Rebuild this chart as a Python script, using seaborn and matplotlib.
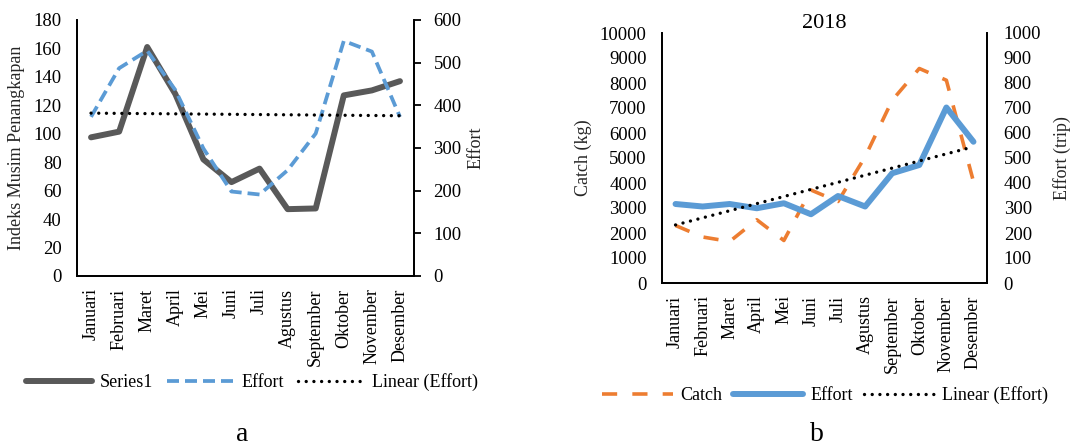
"""Seasonal fishing index vs effort (a) and 2018 catch vs effort (b)."""

import matplotlib

matplotlib.use("Agg")
import matplotlib.pyplot as plt
import numpy as np
import pandas as pd
import seaborn as sns

MONTHS = [
    "Januari", "Februari", "Maret", "April", "Mei", "Juni",
    "Juli", "Agustus", "September", "Oktober", "November", "Desember",
]

# panel a
SERIES1 = [97.5, 101.5, 161, 128, 82, 66, 75.5, 47, 47.5, 127, 130.5, 137]
EFFORT_A = [373, 487, 528, 436, 299, 198, 191, 248, 334, 551, 526, 373]

# panel b (2018)
CATCH_B = [2300, 1840, 1660, 2530, 1700, 3720, 3260, 5050, 7310, 8580, 8110, 4060]
EFFORT_B = [316, 306, 316, 299, 319, 275, 348, 306, 439, 472, 702, 565]

W, H = 1072, 445
SERIF = ["Liberation Serif", "DejaVu Serif"]
GREY = "#595959"
BLUE = "#5B9BD5"
ORANGE = "#ED7D31"


def _px_axes(fig, left, top, right, bottom):
    return fig.add_axes([left / W, 1 - bottom / H, (right - left) / W, (bottom - top) / H])


def _style_pair(ax, ax2):
    for a in (ax, ax2):
        a.spines["top"].set_visible(False)
        for side in ("left", "right", "bottom"):
            a.spines[side].set_color("black")
            a.spines[side].set_linewidth(1.3)
    ax.set_xlim(-0.5, 11.5)
    ax.set_xticks(range(12))
    ax.set_xticklabels(MONTHS, rotation=90, fontsize=13)
    ax.tick_params(axis="x", length=0, pad=9)
    ax.tick_params(axis="y", length=0, pad=11, labelsize=13.5)
    ax2.tick_params(axis="y", labelsize=13.5)


def _trend(ax2, values):
    frame = pd.DataFrame({"x": np.arange(12), "y": values})
    sns.regplot(
        data=frame, x="x", y="y", ax=ax2, scatter=False, ci=None, truncate=True,
        line_kws={"color": "black", "linewidth": 2.4,
                  "linestyle": (0, (0.01, 2.3)), "dash_capstyle": "round"},
    )


def main():
    sns.set_theme(style="white")
    plt.rcParams["font.family"] = SERIF
    plt.rcParams["text.color"] = "black"
    plt.rcParams["xtick.color"] = "black"
    plt.rcParams["ytick.color"] = "black"

    fig = plt.figure(figsize=(W / 100, H / 100), dpi=100)
    fig.patch.set_facecolor("white")

    # ---- panel a ----
    ax = _px_axes(fig, 77, 20, 414, 276)
    ax2 = ax.twinx()
    x = np.arange(12)
    sns.lineplot(x=x, y=SERIES1, ax=ax, color=GREY, linewidth=4.3)
    sns.lineplot(x=x, y=EFFORT_A, ax=ax2, color=BLUE, linewidth=2.7)
    ax2.lines[0].set_dashes((3.2, 1.6))
    _trend(ax2, EFFORT_A)
    ax.set_ylim(0, 180)
    ax.set_yticks(range(0, 181, 20))
    ax2.set_ylim(0, 600)
    ax2.set_yticks(range(0, 601, 100))
    _style_pair(ax, ax2)
    ax2.tick_params(axis="y", length=5, width=1.3, pad=9)
    ax.set_ylabel("Indeks Musim Penangkapan", fontsize=13)
    ax.yaxis.set_label_coords(-0.154, 0.5)
    ax2.set_ylabel("Effort", fontsize=13)
    ax2.yaxis.set_label_coords(1.16, 0.5)
    ax.set_xlabel("")
    handles = [ax.lines[0], ax2.lines[0], ax2.lines[1]]
    fig.legend(
        handles, ["Series1", "Effort", "Linear (Effort)"],
        loc="center", bbox_to_anchor=(252 / W, 1 - 382 / H), ncol=3,
        frameon=False, fontsize=13, handlelength=3.7, handletextpad=0.4,
        columnspacing=0.8,
    )
    fig.text(242 / W, 1 - 441 / H, "a", ha="center", va="baseline", fontsize=20)

    # ---- panel b ----
    bx = _px_axes(fig, 662, 33, 987, 283)
    bx2 = bx.twinx()
    sns.lineplot(x=x, y=CATCH_B, ax=bx, color=ORANGE, linewidth=2.6)
    bx.lines[0].set_dashes((4.2, 4.2))
    sns.lineplot(x=x, y=EFFORT_B, ax=bx2, color=BLUE, linewidth=4.3)
    _trend(bx2, EFFORT_B)
    bx.set_ylim(0, 10000)
    bx.set_yticks(range(0, 10001, 1000))
    bx2.set_ylim(0, 1000)
    bx2.set_yticks(range(0, 1001, 100))
    _style_pair(bx, bx2)
    bx2.tick_params(axis="y", length=0, pad=12)
    bx.set_ylabel("Catch (kg)", fontsize=13)
    bx.yaxis.set_label_coords(-0.215, 0.5)
    bx2.set_ylabel("Effort (trip)", fontsize=13)
    bx2.yaxis.set_label_coords(1.203, 0.5)
    bx.set_xlabel("")
    bx.set_title("2018", fontsize=16, pad=0)
    handles = [bx.lines[0], bx2.lines[0], bx2.lines[1]]
    fig.legend(
        handles, ["Catch", "Effort", "Linear (Effort)"],
        loc="center", bbox_to_anchor=(825 / W, 1 - 395 / H), ncol=3,
        frameon=False, fontsize=13, handlelength=3.9, handletextpad=0.4,
        columnspacing=0.6,
    )
    fig.text(817 / W, 1 - 441 / H, "b", ha="center", va="baseline", fontsize=20)

    fig.savefig("out.png", dpi=100, facecolor="white")
    plt.close(fig)


if __name__ == "__main__":
    main()
